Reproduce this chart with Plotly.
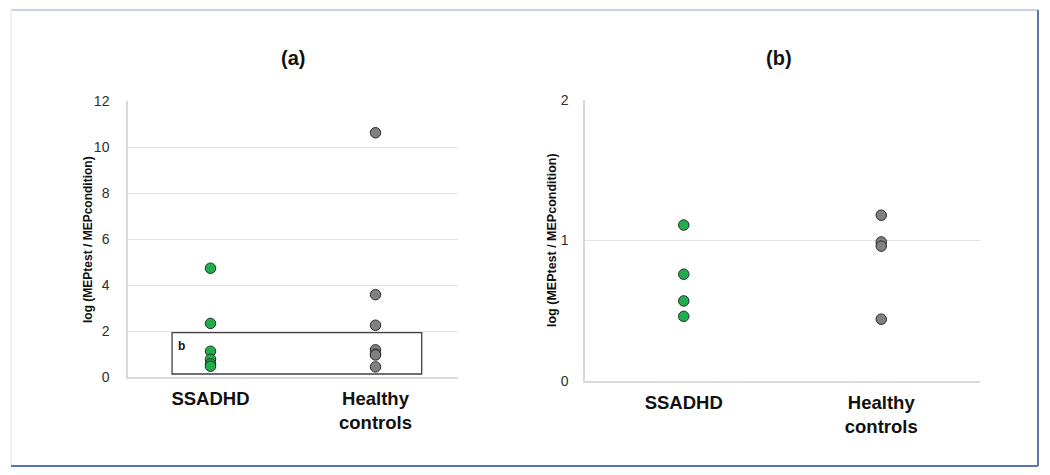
import plotly.graph_objects as go

categories = ["SSADHD", "Healthy<br>controls"]
ssadhd_a = [4.73, 2.33, 1.12, 0.77, 0.57, 0.47]
healthy_a = [10.62, 3.58, 2.25, 1.18, 0.99, 0.96, 0.44]
ssadhd_b = [1.11, 0.76, 0.57, 0.46]
healthy_b = [1.18, 0.99, 0.96, 0.44]
yticks_a = [0, 2, 4, 6, 8, 10, 12]
yticks_b = [0, 1, 2]
panel_titles = ["(a)", "(b)"]
ytitle = "log (MEPtest / MEPcondition)"

GREEN = "#1fae4b"
GREY = "#808080"
OUTLINE = "#2b2b2b"
OFF = 8
W, H = 1050 - 2 * OFF, 475 - 2 * OFF


def px(x):
    return (x - OFF) / W


def py(y):
    return 1 - (y - OFF) / H


fig = go.Figure()


def add_points(vals, cat, color, xa, ya):
    fig.add_trace(go.Scatter(
        x=[cat] * len(vals), y=vals, mode="markers", xaxis=xa, yaxis=ya,
        marker=dict(size=10.5, color=color, line=dict(color=OUTLINE, width=1)),
        showlegend=False, hoverinfo="y"))


add_points(ssadhd_a, categories[0], GREEN, "x", "y")
add_points(healthy_a, categories[1], GREY, "x", "y")
add_points(ssadhd_b, categories[0], GREEN, "x2", "y2")
add_points(healthy_b, categories[1], GREY, "x2", "y2")

dom_a_x = [px(128), px(458)]
dom_a_y = [py(377), py(101)]
dom_b_x = [px(585), px(980)]
dom_b_y = [py(381), py(100)]

FONT = "Liberation Sans, Arial"
xcommon = dict(type="category", categoryorder="array", categoryarray=categories,
               range=[-0.5, 1.5], showgrid=False, zeroline=False, automargin=False,
               showline=True, linecolor="#d9d9d9", linewidth=1.5,
               ticks="", ticklabelstandoff=4,
               tickfont=dict(family=FONT, size=18.5, color="#111111", weight="bold"))
ycommon = dict(showgrid=True, gridcolor="#e3e3e3", gridwidth=1, zeroline=False,
               automargin=False,
               showline=True, linecolor="#d9d9d9", linewidth=1.5, ticks="",
               tickfont=dict(family=FONT, size=14, color="#2e2e2e"))

fig.update_layout(
    width=W, height=H, margin=dict(l=0, r=0, t=0, b=0, pad=0, autoexpand=False),
    paper_bgcolor="white", plot_bgcolor="white",
    xaxis=dict(domain=dom_a_x, anchor="y", **xcommon),
    yaxis=dict(domain=dom_a_y, anchor="x", range=[0, 12], tickvals=yticks_a,
               ticklabelstandoff=14, **ycommon),
    xaxis2=dict(domain=dom_b_x, anchor="y2", **xcommon),
    yaxis2=dict(domain=dom_b_y, anchor="x2", range=[0, 2], tickvals=yticks_b,
                ticklabelstandoff=12, **ycommon),
)

ann = []
for t, x in zip(panel_titles, [293, 779]):
    ann.append(dict(text="<b>" + t + "</b>", x=px(x), y=py(58),
                    xref="paper", yref="paper", xanchor="center", yanchor="middle",
                    showarrow=False, font=dict(family=FONT, size=20, color="#111111")))
for x, s in [(88, 12), (552, 12.5)]:
    ann.append(dict(text="<b>" + ytitle + "</b>", x=px(x), y=py(240), textangle=-90,
                    xref="paper", yref="paper", xanchor="center", yanchor="middle",
                    showarrow=False, font=dict(family=FONT, size=s, color="#111111")))
ann.append(dict(text="<b>b</b>", x=-0.233, y=1.93, xref="x", yref="y",
                xanchor="left", yanchor="top", xshift=4, yshift=-4, showarrow=False,
                font=dict(family=FONT, size=12, color="#111111")))
fig.update_layout(annotations=ann)

shapes = []
shapes.append(dict(type="rect", xref="x", yref="y", x0=-0.233, x1=1.28, y0=0.13, y1=1.93,
                   line=dict(color="#404040", width=1.3), fillcolor="rgba(0,0,0,0)"))
shapes.append(dict(type="line", xref="paper", yref="paper", x0=px(11), x1=px(1038),
                   y0=py(10), y1=py(10), line=dict(color="#c9d2e4", width=2)))
shapes.append(dict(type="line", xref="paper", yref="paper", x0=px(11), x1=px(11),
                   y0=py(10), y1=py(466), line=dict(color="#eef0f6", width=2)))
shapes.append(dict(type="line", xref="paper", yref="paper", x0=px(1038), x1=px(1038),
                   y0=py(10), y1=py(466), line=dict(color="#5876ad", width=2)))
shapes.append(dict(type="line", xref="paper", yref="paper", x0=px(11), x1=px(1038),
                   y0=py(466), y1=py(466), line=dict(color="#5876ad", width=2)))
fig.update_layout(shapes=shapes)

fig.write_html("out.html", config={"displayModeBar": False})
